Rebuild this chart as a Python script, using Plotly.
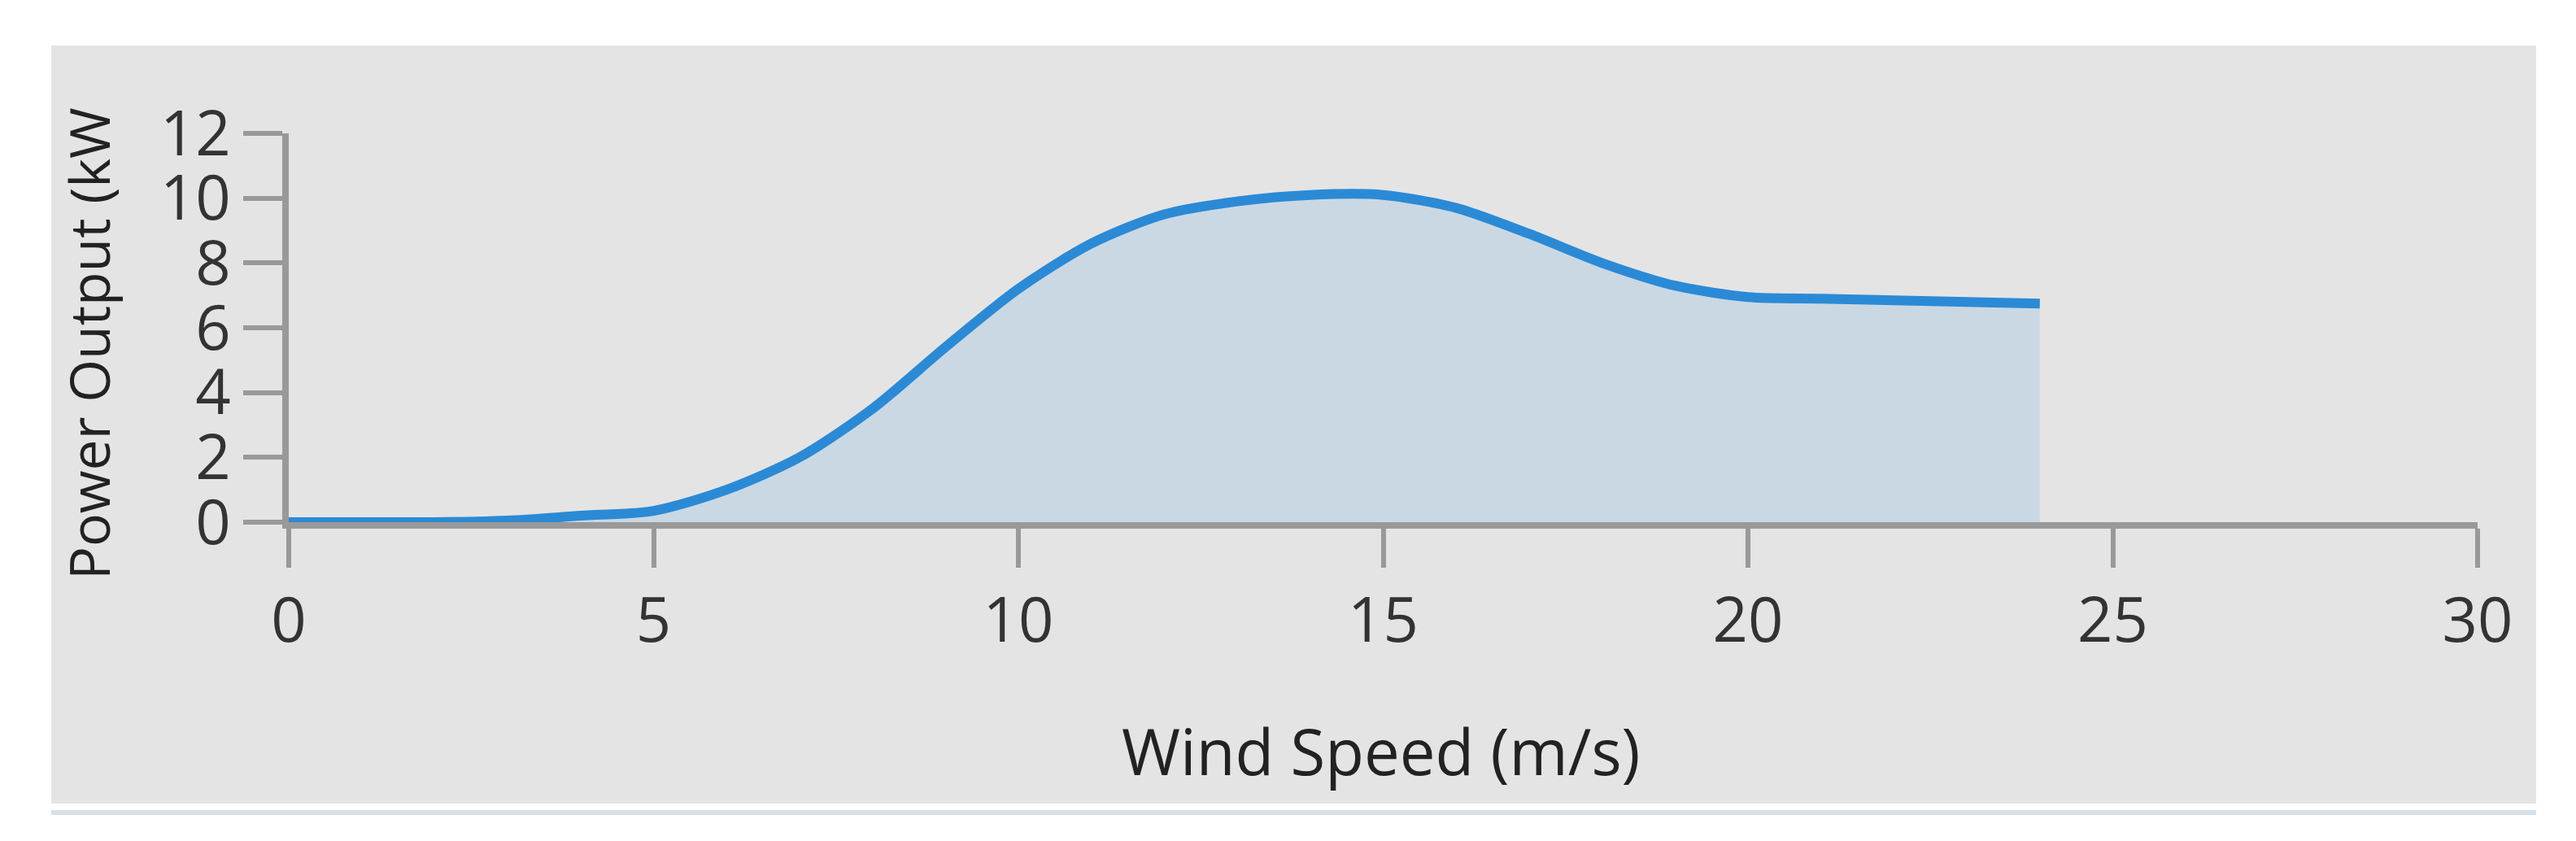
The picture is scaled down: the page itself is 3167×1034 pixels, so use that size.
import plotly.graph_objects as go

wind_speed = list(range(0, 25))
power_kw = [0, 0, 0, 0.05, 0.2, 0.35, 1.0, 2.0, 3.5, 5.4, 7.2, 8.6, 9.5, 9.9, 10.1,
            10.1, 9.7, 8.9, 8.0, 7.3, 6.95, 6.9, 6.85, 6.8, 6.75]
x_ticks = [0, 5, 10, 15, 20, 25, 30]
y_ticks = [0, 2, 4, 6, 8, 10, 12]

W, H = 3167, 1034
L, R, T, B = 347, 129, 156, 400
FONT = "Open Sans"

fig = go.Figure()
fig.add_trace(go.Scatter(
    x=wind_speed, y=power_kw, mode="lines",
    line=dict(color="#2b8ad6", width=12, shape="spline", smoothing=0.8),
    fill="tozeroy", fillcolor="#cad8e3", hoverinfo="skip", showlegend=False,
))

axis_common = dict(showgrid=False, zeroline=False, showline=True, linecolor="#999999",
                   linewidth=8, ticks="outside", tickcolor="#999999", tickwidth=6,
                   ticklen=48, tickfont=dict(family=FONT, size=76, color="#333333"))
fig.update_xaxes(range=[0, 30], tickvals=x_ticks, ticktext=[str(v) for v in x_ticks], **axis_common)
fig.update_yaxes(range=[0, 12], tickvals=y_ticks, ticktext=[str(v) for v in y_ticks], **axis_common)

fig.update_layout(
    width=W, height=H, margin=dict(l=L, r=R, t=T, b=B),
    paper_bgcolor="white", plot_bgcolor="rgba(0,0,0,0)",
    shapes=[
        dict(type="rect", xref="paper", yref="paper", layer="below",
             x0=(55 - L) / (W - L - R), x1=(3110 - L) / (W - L - R),
             y0=(H - B - 980) / (H - T - B), y1=(H - B - 48) / (H - T - B),
             fillcolor="#e4e4e4", line=dict(width=0)),
        dict(type="line", xref="paper", yref="paper",
             x0=(55 - L) / (W - L - R), x1=(3110 - L) / (W - L - R),
             y0=(H - B - 991) / (H - T - B), y1=(H - B - 991) / (H - T - B),
             line=dict(color="#d5e0e8", width=6)),
    ],
    annotations=[
        dict(text="Wind Speed (m/s)", xref="paper", yref="paper",
             x=(1690 - L) / (W - L - R), y=(H - B - 915) / (H - T - B),
             showarrow=False, font=dict(family=FONT, size=78, color="#222222"),
             xanchor="center", yanchor="middle"),
        dict(text="Power Output (kW", xref="paper", yref="paper", textangle=-90,
             x=(100 - L) / (W - L - R), y=(H - B - 415) / (H - T - B),
             showarrow=False, font=dict(family=FONT, size=68, color="#222222"),
             xanchor="center", yanchor="middle"),
    ],
)
fig.write_html("out.html")
